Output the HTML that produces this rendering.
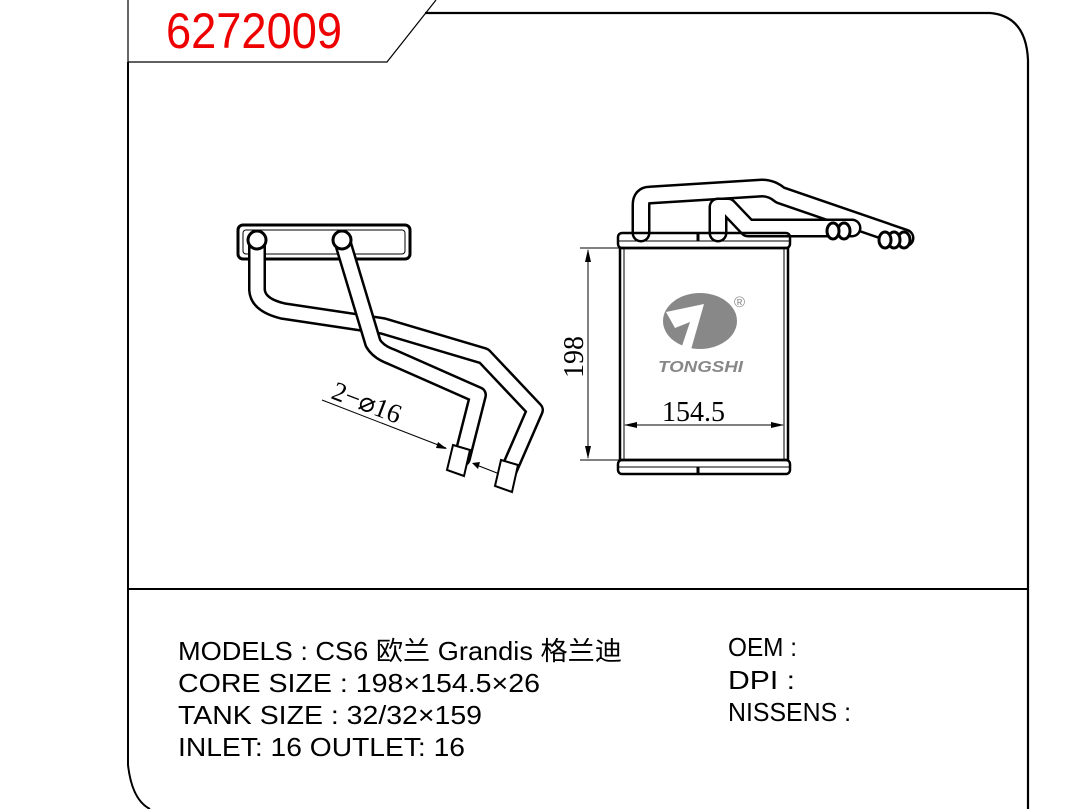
<!DOCTYPE html>
<html><head><meta charset="utf-8"><style>
html,body{margin:0;padding:0;background:#fff}
svg{display:block}
</style></head><body>
<svg width="1071" height="809" viewBox="0 0 1071 809" xmlns="http://www.w3.org/2000/svg">
<g fill="none" stroke="#000">
<path d="M128 0 V62 H387 L436 0" stroke-width="1.2"/>
<path d="M425 13 H990 Q1026 16 1028 60 V809" stroke-width="2.2"/>
<path d="M128 62 V765 Q132 800 150 809" stroke-width="2"/>
<path d="M128 589 H1028" stroke-width="2"/>
</g>
<text x="166" y="48" fill="#e00" font-family="Liberation Sans Narrow, Liberation Sans, sans-serif" font-size="50" textLength="176" lengthAdjust="spacingAndGlyphs">6272009</text>

<g fill="none" stroke-linejoin="round" stroke-linecap="round">
<rect x="238" y="225" width="172" height="34" rx="5" stroke="#000" stroke-width="3"/>
<rect x="243" y="230" width="162" height="24" rx="3" stroke="#000" stroke-width="1"/>
<path d="M257 240 V290 Q258 305 283 311 L383 326 L484 356 L535 410 L508 472" stroke="#000" stroke-width="18"/>
<path d="M257 240 V290 Q258 305 283 311 L383 326 L484 356 L535 410 L508 472" stroke="#fff" stroke-width="13"/>
<path d="M342 240 L373 343 Q378 352 392 357 L478 395 L462 458" stroke="#000" stroke-width="18"/>
<path d="M342 240 L373 343 Q378 352 392 357 L478 395 L462 458" stroke="#fff" stroke-width="13"/>
<circle cx="257" cy="240" r="9" stroke="#000" stroke-width="3" fill="#fff"/>
<circle cx="342" cy="240" r="9" stroke="#000" stroke-width="3" fill="#fff"/>
</g>
<g stroke="#000" fill="#fff" stroke-width="2">
<polygon points="453,445 470,450 464,476 447,470"/>
<polygon points="501,460 518,465 512,492 495,486"/>
</g>
<g stroke="#000" stroke-width="1">
<line x1="322" y1="400" x2="446" y2="448"/>
<line x1="497" y1="473" x2="474" y2="464"/>
</g>
<polygon points="447,449 438,442 436,448" fill="#000"/>
<polygon points="472,463 480,462 478,469" fill="#000"/>
<text x="0" y="0" transform="translate(330,398) rotate(21)" font-family="Liberation Serif, serif" font-size="27">2−⌀16</text>

<g fill="none" stroke-linejoin="round" stroke-linecap="round">
<path d="M641 233 V205 Q641 195 650 195 L762 188 Q772 188 780 195 L905 238" stroke="#000" stroke-width="19"/>
<path d="M641 233 V205 Q641 195 650 195 L762 188 Q772 188 780 195 L905 238" stroke="#fff" stroke-width="14"/>
<path d="M718 233 V207 L728 207 L748 228 L852 228" stroke="#000" stroke-width="19"/>
<path d="M718 233 V207 L728 207 L748 228 L852 228" stroke="#fff" stroke-width="14"/>
</g>
<g fill="#fff" stroke="#000" stroke-width="3">
<ellipse cx="844" cy="231" rx="6" ry="8"/>
<ellipse cx="833" cy="231" rx="6" ry="8"/>
<ellipse cx="904" cy="240" rx="6" ry="8"/>
<ellipse cx="894" cy="240" rx="6" ry="8"/>
<ellipse cx="885" cy="240" rx="6" ry="8"/>
</g>
<g fill="none" stroke="#000">
<rect x="618" y="233" width="172" height="15" rx="4" stroke-width="2.5"/>
<line x1="618" y1="241" x2="790" y2="241" stroke-width="1"/>
<rect x="620" y="248" width="168" height="212" stroke-width="2.5"/>
<line x1="624" y1="248" x2="624" y2="460"/>
<line x1="784" y1="248" x2="784" y2="460"/>
<rect x="618" y="460" width="172" height="14" rx="4" stroke-width="2.5"/>
<line x1="618" y1="467" x2="790" y2="467" stroke-width="1"/>
<line x1="698" y1="233" x2="698" y2="241" stroke-width="3"/>
<line x1="698" y1="467" x2="698" y2="474" stroke-width="3"/>
<line x1="580" y1="248" x2="620" y2="248" stroke-width="1"/>
<line x1="580" y1="460" x2="620" y2="460" stroke-width="1"/>
<line x1="588" y1="250" x2="588" y2="458" stroke-width="1"/>
<line x1="625" y1="425" x2="783" y2="425" stroke-width="1"/>
</g>
<polygon points="588,249 585,262 591,262" fill="#000"/>
<polygon points="588,459 585,446 591,446" fill="#000"/>
<polygon points="624,425 637,422 637,428" fill="#000"/>
<polygon points="784,425 771,422 771,428" fill="#000"/>
<text transform="translate(583,378) rotate(-90)" font-family="Liberation Serif, serif" font-size="28">198</text>
<text x="662" y="421" font-family="Liberation Serif, serif" font-size="28">154.5</text>
<ellipse cx="700" cy="321" rx="37" ry="28" fill="#888"/>
<polygon points="666,312 704,304 690,353 681,349 690,322 675,328" fill="#fff"/>
<text x="734" y="307" font-family="Liberation Sans, sans-serif" font-size="15" fill="#888">®</text>
<text x="658" y="372" font-family="Liberation Sans, sans-serif" font-size="16" font-weight="bold" font-style="italic" fill="#888" textLength="85" lengthAdjust="spacingAndGlyphs">TONGSHI</text>

<g font-family="Liberation Sans Narrow, Liberation Sans, 'Noto Sans CJK SC', sans-serif" font-size="26" fill="#000">
<text x="178" y="660" textLength="444" lengthAdjust="spacingAndGlyphs">MODELS : CS6 欧兰 Grandis 格兰迪</text>
<text x="178" y="692" textLength="362" lengthAdjust="spacingAndGlyphs">CORE SIZE : 198×154.5×26</text>
<text x="178" y="724" textLength="304" lengthAdjust="spacingAndGlyphs">TANK SIZE : 32/32×159</text>
<text x="178" y="756" textLength="287" lengthAdjust="spacingAndGlyphs">INLET: 16  OUTLET: 16</text>
<text x="728" y="656" textLength="69" lengthAdjust="spacingAndGlyphs">OEM :</text>
<text x="728" y="689" textLength="67" lengthAdjust="spacingAndGlyphs">DPI :</text>
<text x="728" y="721" textLength="123" lengthAdjust="spacingAndGlyphs">NISSENS :</text>
</g>
</svg>
</body></html>
